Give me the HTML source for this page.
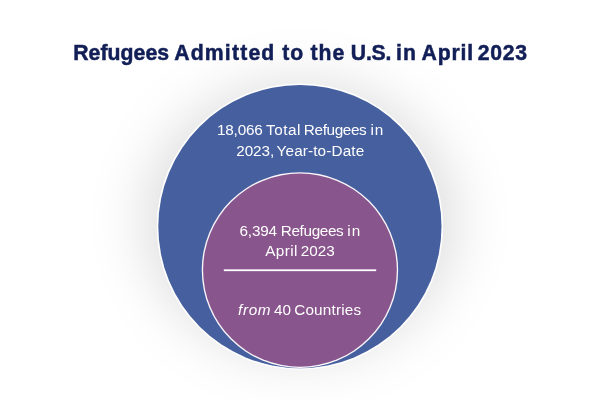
<!DOCTYPE html>
<html lang="en">
<head>
<meta charset="utf-8">
<title>Refugees Admitted to the U.S. in April 2023</title>
<style>
html,body{margin:0;padding:0;}
body{width:600px;height:400px;overflow:hidden;background:#fff;position:relative;font-family:"Liberation Sans",sans-serif;}
.ln{position:absolute;left:0;margin:0;width:600px;height:20px;line-height:20px;white-space:nowrap;font-weight:normal;}
.ln span{position:absolute;top:0;}
.tt{font-size:21.2px;font-weight:bold;color:#121f57;-webkit-text-stroke:0.5px #121f57;}
.bt{font-size:15.3px;color:#fff;}
.art{position:absolute;left:0;top:0;display:block;}
</style>
</head>
<body>
<svg class="art" width="600" height="400" viewBox="0 0 600 400" aria-hidden="true">
<defs><filter id="blur" x="-50%" y="-50%" width="200%" height="200%"><feGaussianBlur stdDeviation="27"/></filter></defs>
<ellipse cx="300" cy="220" rx="156" ry="139" fill="#000" fill-opacity="0.13" filter="url(#blur)"/>
<circle cx="299.9" cy="226.6" r="143.2" fill="#fff"/>
<circle cx="299.9" cy="226.6" r="141.6" fill="#46609f"/>
<ellipse cx="299.95" cy="270.1" rx="98.2" ry="97.9" fill="#fbf7fb"/>
<ellipse cx="299.95" cy="270.1" rx="96.85" ry="96.55" fill="#88558c"/>
<rect x="223.8" y="269.35" width="152.4" height="1.8" fill="#fff"/>
</svg>
<h1 class="ln tt" style="top:43.1px"><span style="left:73.2px;letter-spacing:0.071px">Refugees</span> <span style="left:174.2px;letter-spacing:1.186px">Admitted</span> <span style="left:282.25px;letter-spacing:1.0px">to</span> <span style="left:310.55px;letter-spacing:0.975px">the</span> <span style="left:350.75px;letter-spacing:-0.167px">U.S.</span> <span style="left:396.0px;letter-spacing:1.2px">in</span> <span style="left:421.5px;letter-spacing:0.838px">April</span> <span style="left:477.85px;letter-spacing:0.683px">2023</span></h1>
<p class="ln bt" style="top:120.2px"><span style="left:216.95px;letter-spacing:-0.19px">18,066</span> <span style="left:266.05px;letter-spacing:0.5px">Total</span> <span style="left:303.85px;letter-spacing:-0.379px">Refugees</span> <span style="left:370.6px;letter-spacing:0.7px">in</span></p>
<p class="ln bt" style="top:141.0px"><span style="left:236.25px;letter-spacing:-0.088px">2023,</span> <span style="left:276.6px;letter-spacing:0.127px">Year-to-Date</span></p>
<p class="ln bt" style="top:221.4px"><span style="left:239.45px;letter-spacing:-0.15px">6,394</span> <span style="left:280.75px;letter-spacing:-0.357px">Refugees</span> <span style="left:347.25px;letter-spacing:1.0px">in</span></p>
<p class="ln bt" style="top:240.6px"><span style="left:265.3px;letter-spacing:0.362px">April</span> <span style="left:300.75px;letter-spacing:0.0px">2023</span></p>
<p class="ln bt" style="top:299.9px"><span style="left:238.1px;letter-spacing:0.633px"><i>from</i></span> <span style="left:274.05px;letter-spacing:-0.15px">40</span> <span style="left:294.15px;letter-spacing:0.194px">Countries</span></p>
</body>
</html>
